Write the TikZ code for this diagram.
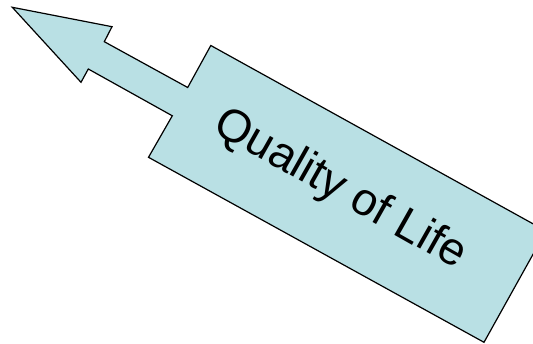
\documentclass[tikz,border=0pt]{standalone}
\usepackage{fontspec}
\setmainfont{Liberation Sans}
\definecolor{boxfill}{RGB}{185,224,228}
\tikzset{arrowshape/.style={draw=black,fill=boxfill,line width=1.2pt,line join=miter}}
\begin{document}
\begin{tikzpicture}[x=1pt,y=-1pt]
\useasboundingbox (0,0) rectangle (533,344);
\clip (0,0) rectangle (533,344);
\coordinate (tip) at (12.3,7.3);
\coordinate (barbT) at (112,26.7);
\coordinate (innT) at (104.3,41.7);
\coordinate (shT) at (187.7,87.5);
\coordinate (bTL) at (210.8,45.5);
\coordinate (bTR) at (546,231);
\coordinate (bBR) at (484,342.3);
\coordinate (bBL) at (148.5,157.3);
\coordinate (shB) at (172.3,115.8);
\coordinate (innB) at (88.3,69);
\coordinate (barbB) at (81,82.3);
\draw[arrowshape] (tip) -- (barbT) -- (innT) -- (shT) -- (bTL) -- (bTR) -- (bBR) -- (bBL) -- (shB) -- (innB) -- (barbB) -- cycle;
\node[rotate=-29.5,font=\fontsize{46}{52}\selectfont,inner sep=0pt] (label) at (340,190) {Quality of Life};
\end{tikzpicture}
\end{document}
